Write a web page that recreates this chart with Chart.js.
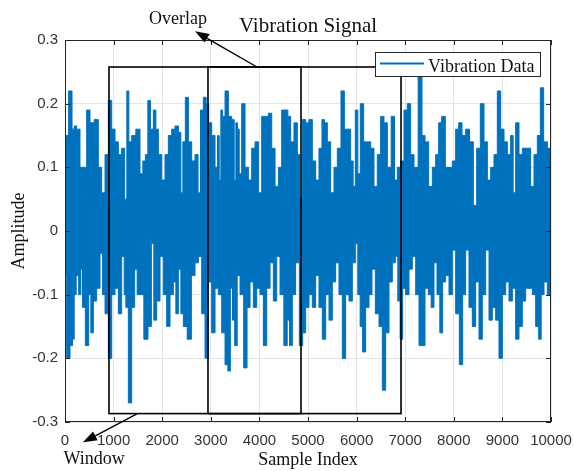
<!DOCTYPE html>
<html>
<head>
<meta charset="utf-8">
<script src="https://cdn.jsdelivr.net/npm/chart.js@4.4.1/dist/chart.umd.min.js"></script>
<style>
html,body{margin:0;padding:0;background:#fff;}
canvas{display:block;}
</style>
</head>
<body>
<canvas id="c" width="574" height="471"></canvas>
<script>
// ---- data: local maxima (peaks) and local minima (troughs) of the signal ----
const peakIndex = [
0,34,117,172,206,274,343,412,480,549,652,720,789,858,926,995,1063,1132,1200,1255,1290,1338,1406,1509,1578,1626,1681,1729,1784,1852,1887,1955,
2024,2092,2161,2230,2298,2367,2401,2449,2504,2573,2641,2710,2765,2813,2881,2929,2984,3053,3121,3156,3190,3224,3259,3327,3396,3464,3499,3533,3567,3602,3670,3739,3807,3876,3945,
4013,4082,4150,4219,4288,4356,4425,4493,4562,4609,4677,4746,4815,4849,4918,4986,5055,5123,5192,5260,5315,5363,5432,5501,5569,5638,5720,5775,5844,5912,5946,
6001,6049,6104,6186,6255,6324,6392,6461,6529,6598,6667,6756,6804,6872,6941,7009,7078,7147,7215,7318,7373,7442,7524,7593,7661,7716,7785,7867,7936,
8004,8073,8128,8210,8278,8368,8436,8505,8587,8656,8724,8793,8861,8930,8999,9067,9136,9204,9239,9307,9376,9444,9547,9616,9685,9753,9808,9890,9959,10000
];
const peakValue = [
0.10,0.15,0.22,0.16,0.165,0.16,0.10,0.10,0.19,0.17,0.175,0.10,0.06,0.12,0.205,0.16,0.14,0.12,0.13,0.05,0.22,0.14,0.15,0.16,0.09,0.11,0.12,0.205,0.16,0.19,0.16,0.12,
0.08,0.12,0.15,0.16,0.165,0.155,0.06,0.14,0.21,0.14,0.11,0.12,0.06,0.19,0.21,0.20,0.17,0.15,0.10,0.15,0.08,0.19,0.18,0.22,0.18,0.175,0.08,0.17,0.16,0.09,0.20,0.10,0.08,0.13,0.14,
0.06,0.18,0.18,0.185,0.13,0.07,0.10,0.19,0.19,0.18,0.14,0.17,0.12,0.05,0.175,0.17,0.175,0.11,0.08,0.13,0.175,0.17,0.14,0.06,0.10,0.13,0.22,0.16,0.16,0.11,0.07,
0.19,0.09,0.20,0.14,0.14,0.13,0.07,0.12,0.18,0.17,0.10,0.18,0.08,0.10,0.11,0.19,0.20,0.12,0.10,0.245,0.15,0.14,0.07,0.10,0.12,0.17,0.18,0.10,0.10,
0.11,0.16,0.17,0.15,0.16,0.14,0.04,0.13,0.20,0.14,0.08,0.10,0.12,0.22,0.16,0.14,0.12,0.15,0.06,0.17,0.12,0.13,0.13,0.07,0.12,0.15,0.225,0.14,0.13,0.10
];
const troughIndex = [
0,69,137,172,206,254,309,343,377,460,515,549,617,686,755,789,858,926,995,1063,1132,1200,1235,1269,1338,1406,1461,1509,1578,1667,1749,1804,1852,1921,1989,
2058,2127,2195,2264,2298,2367,2401,2470,2559,2641,2710,2778,2847,2916,2984,3053,3121,3190,3259,3327,3375,3430,3464,3519,3567,3636,3718,3773,3842,3910,3979,
4047,4116,4185,4253,4322,4390,4459,4548,4596,4643,4712,4780,4863,4918,4986,5055,5123,5192,5260,5329,5398,5466,5535,5603,5672,5741,5809,5878,5946,
6001,6049,6097,6152,6221,6289,6344,6427,6495,6564,6632,6701,6769,6824,6872,6920,6975,7044,7112,7181,7250,7318,7373,7442,7510,7558,7627,7682,7743,7798,7867,7936,
8004,8073,8155,8210,8278,8347,8416,8484,8553,8621,8690,8759,8827,8896,8964,9033,9102,9170,9239,9307,9376,9444,9513,9582,9650,9719,9774,9822,9890,9959,10000
];
const troughValue = [
-0.07,-0.20,-0.18,-0.17,-0.10,-0.07,-0.10,-0.06,-0.12,-0.18,-0.10,-0.16,-0.11,-0.09,-0.035,-0.10,-0.13,-0.20,-0.10,-0.09,-0.13,-0.04,-0.10,-0.12,-0.27,-0.12,-0.06,-0.10,-0.10,-0.17,-0.15,-0.02,-0.14,-0.11,-0.04,
-0.10,-0.15,-0.10,-0.08,-0.13,-0.06,-0.13,-0.15,-0.17,-0.07,-0.05,-0.04,-0.13,-0.20,-0.08,-0.16,-0.09,-0.10,-0.16,-0.21,-0.22,-0.09,-0.14,-0.18,-0.07,-0.10,-0.215,-0.12,-0.08,-0.12,-0.09,
-0.10,-0.18,-0.09,-0.05,-0.11,-0.04,-0.10,-0.18,-0.14,-0.18,-0.10,-0.05,-0.18,-0.16,-0.12,-0.10,-0.12,-0.07,-0.12,-0.17,-0.10,-0.14,-0.08,-0.05,-0.10,-0.20,-0.10,-0.11,-0.05,
-0.02,-0.10,-0.15,-0.19,-0.12,-0.10,-0.06,-0.13,-0.15,-0.25,-0.16,-0.08,-0.05,-0.04,-0.11,-0.17,-0.09,-0.10,-0.06,-0.04,-0.10,-0.18,-0.18,-0.09,-0.10,-0.12,-0.05,-0.10,-0.16,-0.08,-0.07,-0.10,
-0.03,-0.13,-0.21,-0.10,-0.03,-0.12,-0.15,-0.08,-0.17,-0.10,-0.03,-0.14,-0.12,-0.14,-0.20,-0.10,-0.08,-0.11,-0.09,-0.17,-0.15,-0.11,-0.09,-0.09,-0.10,-0.15,-0.17,-0.10,-0.08,-0.10,-0.05
];
const xTicks = [0,1000,2000,3000,4000,5000,6000,7000,8000,9000,10000];
const yTicks = [-0.3,-0.2,-0.1,0,0.1,0.2,0.3];
const yTickLabels = ['-0.3','-0.2','-0.1','0','0.1','0.2','0.3'];
const seriesName = 'Vibration Data';
const chartTitle = 'Vibration Signal';
const xTitle = 'Sample Index';
const yTitle = 'Amplitude';
// analysis windows (sample index ranges) and amplitude extent of the boxes
const windowStarts = [905, 2942];
const windowEnds = [4856, 6914];
const windowTop = 0.2576;
const windowBottom = -0.2868;

// ---- annotation placement (data units) ----
const annot = {
  overlap: {text:'Overlap', from:[3950,0.2576], to:[2675,0.3137], label:[2325,0.3246]},
  window:  {text:'Window',  from:[1481,-0.2871], to:[370,-0.332], label:[597,-0.3667]}
};

const peaks = peakIndex.map((s,i)=>({x:s, y:peakValue[i]}));
const troughs = troughIndex.map((s,i)=>({x:s, y:troughValue[i]}));
const BLUE = '#0072bd';
const AXC = '#262626';
const SERIF = '"Liberation Serif","Times New Roman",serif';
const SANS = '"Liberation Sans",Arial,sans-serif';

function arrow(ctx, x1, y1, x2, y2, len, hw){
  const a = Math.atan2(y2-y1, x2-x1);
  const bx = x2 - len*Math.cos(a), by = y2 - len*Math.sin(a);
  ctx.beginPath(); ctx.moveTo(x1,y1); ctx.lineTo(bx,by); ctx.stroke();
  ctx.beginPath();
  ctx.moveTo(x2,y2);
  ctx.lineTo(bx + hw*Math.sin(a), by - hw*Math.cos(a));
  ctx.lineTo(bx - hw*Math.sin(a), by + hw*Math.cos(a));
  ctx.closePath(); ctx.fill();
}

const decor = {
  id:'decor',
  afterDatasetsDraw(chart){
    const {ctx, chartArea, scales:{x, y}} = chart;
    const L = Math.round(chartArea.left), R = Math.round(chartArea.right);
    const T = Math.round(chartArea.top), B = Math.round(chartArea.bottom);
    ctx.save();
    // frame
    ctx.strokeStyle = AXC; ctx.lineWidth = 1;
    ctx.strokeRect(L+0.5, T+0.5, R-L-1, B-T-1);
    // inward ticks
    ctx.beginPath();
    xTicks.forEach(v=>{ const px = Math.round(x.getPixelForValue(v))+0.5;
      ctx.moveTo(px,B); ctx.lineTo(px,B-5); ctx.moveTo(px,T); ctx.lineTo(px,T+5); });
    yTicks.forEach(v=>{ const py = Math.round(y.getPixelForValue(v))+0.5;
      ctx.moveTo(L,py); ctx.lineTo(L+5,py); ctx.moveTo(R,py); ctx.lineTo(R-5,py); });
    ctx.stroke();

    // windows
    ctx.strokeStyle = '#000'; ctx.lineWidth = 1.6;
    const yt = y.getPixelForValue(windowTop), yb = y.getPixelForValue(windowBottom);
    windowStarts.forEach((s,i)=>{
      const xs = x.getPixelForValue(s), xe = x.getPixelForValue(windowEnds[i]);
      ctx.strokeRect(xs, yt, xe-xs, yb-yt);
    });

    // arrows
    ctx.strokeStyle = '#000'; ctx.fillStyle = '#000'; ctx.lineWidth = 1.4;
    Object.values(annot).forEach(a=>{
      arrow(ctx, x.getPixelForValue(a.from[0]), y.getPixelForValue(a.from[1]),
                 x.getPixelForValue(a.to[0]), y.getPixelForValue(a.to[1]), 14, 5);
    });
    ctx.font = '18px ' + SERIF; ctx.textAlign = 'center'; ctx.textBaseline = 'alphabetic';
    ctx.fillStyle = '#111';
    Object.values(annot).forEach(a=>{
      ctx.fillText(a.text, x.getPixelForValue(a.label[0]), y.getPixelForValue(a.label[1]));
    });

    // legend
    const lw = 165, lh = 24;
    const lx = R - 11 - lw, ly = T + 12;
    ctx.fillStyle = '#fff'; ctx.fillRect(lx, ly, lw, lh);
    ctx.strokeStyle = AXC; ctx.lineWidth = 1;
    ctx.strokeRect(Math.round(lx)+0.5, Math.round(ly)+0.5, lw, lh);
    ctx.strokeStyle = BLUE; ctx.lineWidth = 2;
    ctx.beginPath(); ctx.moveTo(lx+5, ly+11.5); ctx.lineTo(lx+49, ly+11.5); ctx.stroke();
    ctx.fillStyle = '#111'; ctx.textAlign = 'left';
    ctx.font = '18px ' + SERIF;
    ctx.fillText(seriesName, lx+53, ly+19.5);

    // title and axis titles
    const cx = (L+R)/2;
    ctx.textAlign = 'center';
    ctx.font = '21px ' + SERIF;
    ctx.fillText(chartTitle, cx, 31.5);
    ctx.font = '18px ' + SERIF;
    ctx.fillText(xTitle, cx, 465);
    ctx.save();
    ctx.translate(24, (T+B)/2);
    ctx.rotate(-Math.PI/2);
    ctx.fillText(yTitle, 0, 0);
    ctx.restore();
    ctx.restore();
  }
};

const lineStyle = {
  borderColor: BLUE, backgroundColor: BLUE, borderWidth: 1,
  pointRadius: 0, tension: 0, stepped: 'middle', fill: 'origin'
};

new Chart(document.getElementById('c'), {
  type:'line',
  data:{ datasets:[
    Object.assign({ label: seriesName, data: peaks }, lineStyle),
    Object.assign({ label: seriesName + ' (troughs)', data: troughs }, lineStyle)
  ]},
  options:{
    responsive:false, animation:false, devicePixelRatio:1,
    layout:{ padding:{ left:0, right:23, top:40, bottom:0 } },
    plugins:{ legend:{display:false}, title:{display:false}, tooltip:{enabled:false},
      filler:{ propagate:false } },
    scales:{
      x:{ type:'linear', min:0, max:10000,
        afterBuildTicks: s => { s.ticks = xTicks.map(v=>({value:v})); },
        afterFit: s => { s.height = 49; s.paddingLeft = 0; s.paddingRight = 0; },
        grid:{ color:'#e4e4e4', lineWidth:1, drawTicks:false },
        border:{ display:false },
        ticks:{ padding:10, color:'#333', font:{ family:SANS, size:15 }, maxRotation:0, autoSkip:false,
          callback: v => String(v) }
      },
      y:{ type:'linear', min:-0.3, max:0.3,
        afterBuildTicks: s => { s.ticks = yTicks.map(v=>({value:v})); },
        afterFit: s => { s.width = 65; s.paddingTop = 0; s.paddingBottom = 0; },
        grid:{ color:'#e4e4e4', lineWidth:1, drawTicks:false },
        border:{ display:false },
        ticks:{ padding:7, color:'#333', font:{ family:SANS, size:15 }, autoSkip:false,
          callback: (v, i) => yTickLabels[i] }
      }
    }
  },
  plugins:[decor]
});
</script>
</body>
</html>
